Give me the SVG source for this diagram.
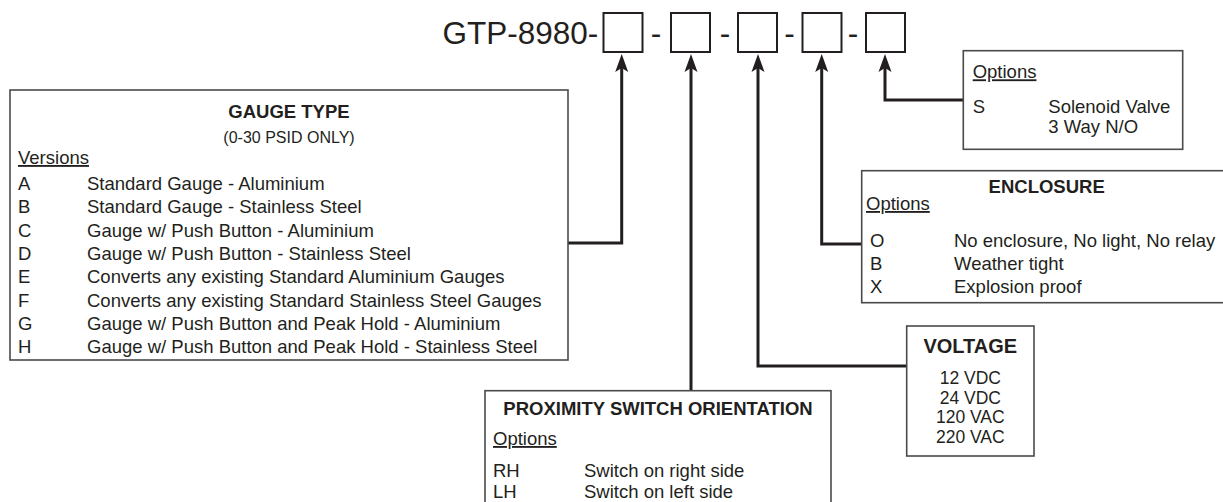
<svg xmlns="http://www.w3.org/2000/svg" width="1223" height="502" viewBox="0 0 1223 502">
<style>
text{font-family:"Liberation Sans",Arial,sans-serif;fill:#231f20;font-size:18.5px}
.b{font-weight:bold}
.c{text-anchor:middle}
.u{text-decoration:underline}
.box{fill:#fff;stroke:#4a4a4a;stroke-width:1.6}
.slot{fill:#fff;stroke:#231f20;stroke-width:2}
.con{fill:none;stroke:#231f20;stroke-width:3;marker-end:url(#ah)}
</style>
<defs>
<marker id="ah" markerUnits="userSpaceOnUse" orient="auto" refX="0" refY="0" markerWidth="30" markerHeight="30" overflow="visible">
<path d="M6,0 L-12,-6.5 L-8,0 L-12,6.5 Z" fill="#231f20"/>
</marker>
</defs>
<g id="code">
<text x="442.5" y="44" style="font-size:31.5px">GTP-8980-</text>
<rect class="slot" x="603.5" y="13" width="39" height="39"/>
<text class="c" x="656" y="44" style="font-size:31.5px">-</text>
<rect class="slot" x="671" y="13" width="39" height="39"/>
<text class="c" x="725" y="44" style="font-size:31.5px">-</text>
<rect class="slot" x="738" y="13" width="39" height="39"/>
<text class="c" x="789.5" y="44" style="font-size:31.5px">-</text>
<rect class="slot" x="802.5" y="13" width="39" height="39"/>
<text class="c" x="853" y="44" style="font-size:31.5px">-</text>
<rect class="slot" x="866" y="13" width="39" height="39"/>
</g>
<g id="connectors">
<path class="con" d="M568,243 H621.7 V60"/>
<path class="con" d="M691,390.7 V60"/>
<path class="con" d="M906.7,366 H758 V60"/>
<path class="con" d="M861.7,244 H821.7 V60"/>
<path class="con" d="M963.3,100 H885 V60"/>
</g>
<g id="gauge-type">
<rect class="box" x="10" y="90" width="558" height="270"/>
<text class="b c" x="289" y="118">GAUGE TYPE</text>
<text class="c" x="289" y="143" style="font-size:16px">(0-30 PSID ONLY)</text>
<text class="u" x="18" y="164">Versions</text>
<text x="18" y="190">A</text><text x="87" y="190">Standard Gauge - Aluminium</text>
<text x="18" y="213.3">B</text><text x="87" y="213.3">Standard Gauge - Stainless Steel</text>
<text x="18" y="236.6">C</text><text x="87" y="236.6">Gauge w/ Push Button - Aluminium</text>
<text x="18" y="259.9">D</text><text x="87" y="259.9">Gauge w/ Push Button - Stainless Steel</text>
<text x="18" y="283.2">E</text><text x="87" y="283.2">Converts any existing Standard Aluminium Gauges</text>
<text x="18" y="306.5">F</text><text x="87" y="306.5">Converts any existing Standard Stainless Steel Gauges</text>
<text x="18" y="329.8">G</text><text x="87" y="329.8">Gauge w/ Push Button and Peak Hold - Aluminium</text>
<text x="18" y="353.1">H</text><text x="87" y="353.1">Gauge w/ Push Button and Peak Hold - Stainless Steel</text>
</g>
<g id="proximity">
<rect class="box" x="485" y="390.7" width="346" height="130"/>
<text class="b c" x="658" y="415">PROXIMITY SWITCH ORIENTATION</text>
<text class="u" x="493" y="445">Options</text>
<text x="493" y="476.7">RH</text><text x="584" y="476.7">Switch on right side</text>
<text x="493" y="498.3">LH</text><text x="584" y="498.3">Switch on left side</text>
</g>
<g id="voltage">
<rect class="box" x="906.7" y="326" width="127.3" height="130"/>
<text class="b c" x="970.3" y="352.7" style="font-size:20px">VOLTAGE</text>
<text class="c" x="970.3" y="384" style="font-size:17.5px">12 VDC</text>
<text class="c" x="970.3" y="403.5" style="font-size:17.5px">24 VDC</text>
<text class="c" x="970.3" y="423" style="font-size:17.5px">120 VAC</text>
<text class="c" x="970.3" y="442.5" style="font-size:17.5px">220 VAC</text>
</g>
<g id="enclosure">
<rect class="box" x="861.7" y="170.7" width="370" height="132"/>
<text class="b c" x="1046.7" y="193.3">ENCLOSURE</text>
<text class="u" x="866" y="210">Options</text>
<text x="870" y="247">O</text><text x="954" y="247">No enclosure, No light, No relay</text>
<text x="870" y="270">B</text><text x="954" y="270">Weather tight</text>
<text x="870" y="293">X</text><text x="954" y="293">Explosion proof</text>
</g>
<g id="solenoid">
<rect class="box" x="963.3" y="50.7" width="219.4" height="98.6"/>
<text class="u" x="972.7" y="78.3">Options</text>
<text x="972.7" y="112.7">S</text><text x="1048.3" y="112.7">Solenoid Valve</text>
<text x="1048.3" y="133.3">3 Way N/O</text>
</g>
</svg>
